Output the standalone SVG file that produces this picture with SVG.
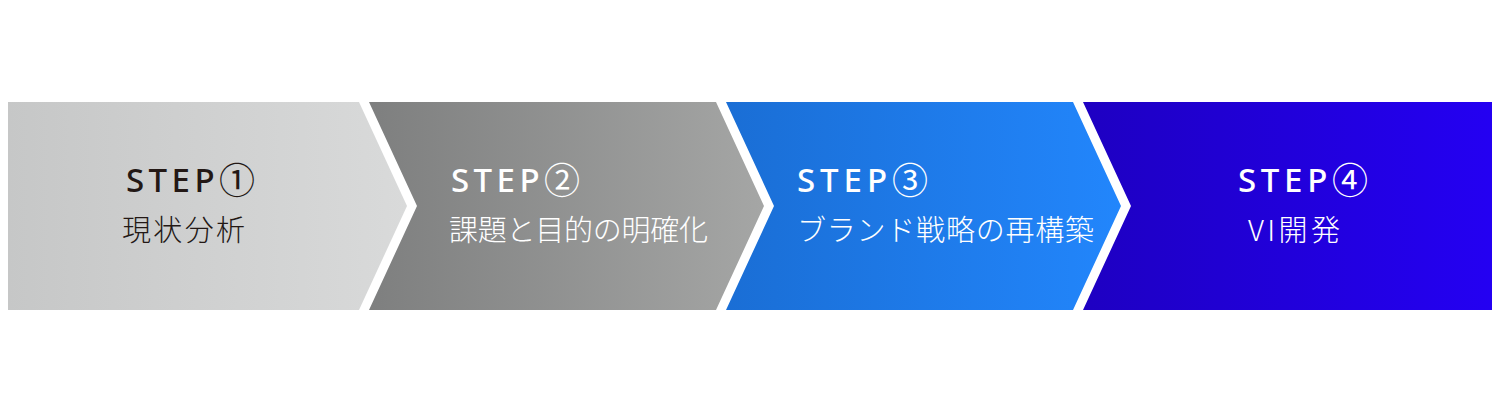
<svg xmlns="http://www.w3.org/2000/svg" width="1500" height="404" viewBox="0 0 1500 404">
  <style>
    .step { font-family: "Noto Sans", "Noto Sans CJK JP", sans-serif; font-size: 33px; font-weight: 500; }
    .num { font-family: "Noto Sans CJK JP", sans-serif; font-size: 36px; font-weight: 400; }
    .label { font-family: "Noto Sans CJK JP", sans-serif; font-size: 29px; font-weight: 300; }
    .dark { fill: #231815; }
    .light { fill: #ffffff; }
  </style>
  <defs>
    <linearGradient id="g1" x1="0" y1="0" x2="1" y2="0">
      <stop offset="0" stop-color="#c6c7c7"/>
      <stop offset="1" stop-color="#d9dada"/>
    </linearGradient>
    <linearGradient id="g2" x1="0" y1="0" x2="1" y2="0">
      <stop offset="0" stop-color="#7e7f7f"/>
      <stop offset="1" stop-color="#a5a6a5"/>
    </linearGradient>
    <linearGradient id="g3" x1="0" y1="0" x2="1" y2="0">
      <stop offset="0" stop-color="#1a6ed5"/>
      <stop offset="1" stop-color="#2286fc"/>
    </linearGradient>
    <linearGradient id="g4" x1="0" y1="0" x2="1" y2="0">
      <stop offset="0" stop-color="#1e00c2"/>
      <stop offset="1" stop-color="#2400f2"/>
    </linearGradient>
  </defs>
  <rect width="1500" height="404" fill="#ffffff"/>
  <g id="step1">
    <path d="M8,102 H359 L407,206 L359,310 H8 Z" fill="url(#g1)"/>
    <text class="step dark" x="126" y="192" textLength="129" lengthAdjust="spacing">STEP<tspan class="num" dy="2">①</tspan></text>
    <text class="label dark" x="122" y="241" textLength="123" lengthAdjust="spacing">現状分析</text>
  </g>
  <g id="step2">
    <path d="M369,102 H716 L764,206 L716,310 H369 L417,206 Z" fill="url(#g2)"/>
    <text class="step light" x="451" y="192" textLength="129" lengthAdjust="spacing">STEP<tspan class="num" dy="2">②</tspan></text>
    <text class="label light" x="449" y="241" textLength="259" lengthAdjust="spacing">課題と目的の明確化</text>
  </g>
  <g id="step3">
    <path d="M726,102 H1073 L1121,206 L1073,310 H726 L774,206 Z" fill="url(#g3)"/>
    <text class="step light" x="797" y="192" textLength="131" lengthAdjust="spacing">STEP<tspan class="num" dy="2">③</tspan></text>
    <text class="label light" x="797" y="241" textLength="297" lengthAdjust="spacing">ブランド戦略の再構築</text>
  </g>
  <g id="step4">
    <path d="M1083,102 H1492 V310 H1083 L1131,206 Z" fill="url(#g4)"/>
    <text class="step light" x="1238" y="192" textLength="130" lengthAdjust="spacing">STEP<tspan class="num" dy="2">④</tspan></text>
    <text class="label light" x="1248" y="241" textLength="92" lengthAdjust="spacing">VI開発</text>
  </g>
  <g id="connectors"/>
</svg>
